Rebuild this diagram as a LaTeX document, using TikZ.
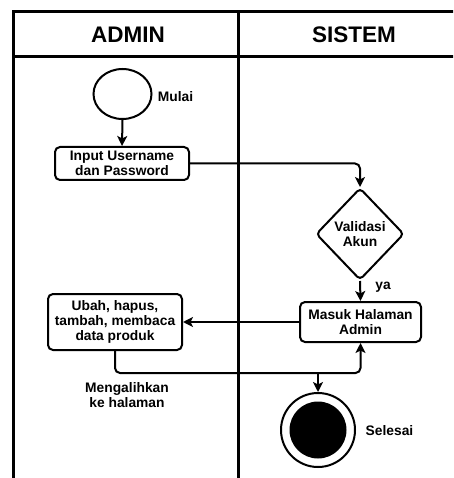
\documentclass[tikz,border=0pt]{standalone}
\usepackage{fontspec}
\setmainfont{Liberation Sans}
\usetikzlibrary{shapes.geometric,arrows.meta}
\begin{document}
\begin{tikzpicture}[x=1pt,y=-1pt,
  frame/.style={line width=3pt},
  lbl/.style={font=\fontsize{13.8}{15}\selectfont\bfseries, align=center, inner sep=0pt},
  hdr/.style={font=\fontsize{22.5}{24}\selectfont\bfseries, inner sep=0pt},
  act/.style={draw, line width=2pt, rounded corners=5pt, lbl},
  conn/.style={line width=2pt, rounded corners=5pt, -{Stealth[length=10pt,width=10pt,inset=2.5pt]}},
  plain/.style={line width=2pt, rounded corners=5pt}
]
\useasboundingbox (0,0) rectangle (453,478);
\clip (0,0) rectangle (453,478);
% swimlane frame
\coordinate (tl) at (13,12);
\coordinate (tr) at (460,12);
\coordinate (hl) at (13,57);
\coordinate (hr) at (460,57);
\coordinate (bl) at (13,485);
\coordinate (mt) at (238,12);
\coordinate (mb) at (238,485);
\draw[frame] (bl) -- (tl) -- (tr);
\draw[frame] (hl) -- (hr);
\draw[frame] (mt) -- (mb);
\node[hdr] (hadmin) at (128,35) {ADMIN};
\node[hdr] (hsistem) at (354,35) {SISTEM};
% nodes
\node[draw, ellipse, line width=2pt, minimum width=58pt, minimum height=50pt, inner sep=0pt] (start) at (122.5,94) {};
\node[lbl] (mulai) at (175.5,97) {Mulai};
\node[act, minimum width=134pt, minimum height=33pt] (input) at (122,163.5) {Input Username\\dan Password};
\node[draw, diamond, line width=2pt, rounded corners=4pt, minimum width=88pt, minimum height=92pt, lbl] (valid) at (360,234) {Validasi\\Akun};
\node[act, minimum width=121pt, minimum height=40pt] (masuk) at (360.5,322) {Masuk Halaman\\Admin};
\node[act, minimum width=134pt, minimum height=56pt] (ubah) at (115,322) {Ubah, hapus,\\tambah, membaca\\data produk};
\node[draw, circle, line width=2pt, minimum size=74pt, inner sep=0pt] (end) at (318,430) {};
\node[fill, circle, minimum size=57pt, inner sep=0pt] (endin) at (318,430) {};
\node[lbl] (selesai) at (389.5,431) {Selesai};
\node[lbl] (ya) at (383,287) {ya};
\node[lbl] (meng) at (127,395) {Mengalihkan\\ke halaman};
\coordinate (j) at (end.north |- 0,373);
% connectors
\draw[conn] (start.south) -- (input.north);
\draw[conn] (input.east) -| (valid.north);
\draw[conn] (valid.south) -- (masuk.north);
\draw[conn] (masuk.west) -- (ubah.east);
\draw[conn] (ubah.south) |- (j) -| (masuk.south);
\draw[conn] (j) -- (end.north);
\end{tikzpicture}
\end{document}
